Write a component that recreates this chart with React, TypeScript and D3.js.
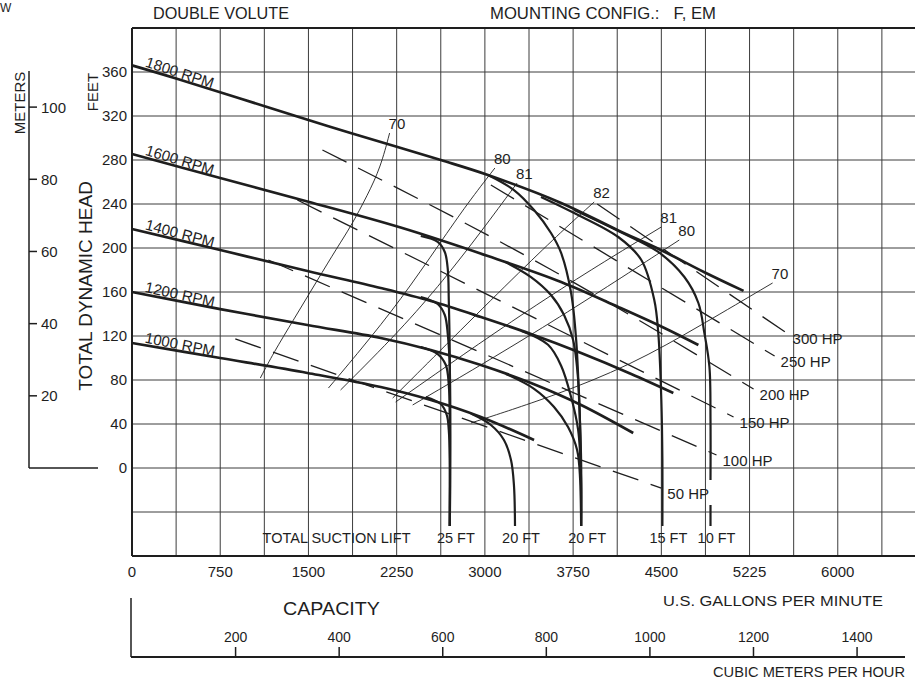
import React from "react";
import * as d3 from "d3";

type P = [number, number] | null;

// ---- axis ticks ----
const gpmTickValues = [0, 750, 1500, 2250, 3000, 3750, 4500, 5250, 6000];
const gpmTickLabels = ["0", "750", "1500", "2250", "3000", "3750", "4500", "5225", "6000"];
const feetTicks = [0, 40, 80, 120, 160, 200, 240, 280, 320, 360];
const meterTicks = [20, 40, 60, 80, 100];
const m3hTicks = [200, 400, 600, 800, 1000, 1200, 1400];

// ---- head-capacity curves (GPM, feet) ----
const rpmLabels = ["1800 RPM", "1600 RPM", "1400 RPM", "1200 RPM", "1000 RPM"];
const rpm1800: P[] = [[0, 366], [375, 354.1], [1432, 318.6], [1858, 304.5], [2625, 280], [3026, 266.4], [3648, 241], [4134, 216], [4500, 198], [4866, 178], [5199, 161]];
const rpm1600: P[] = [[0, 285.5], [750, 263.6], [1491, 242.3], [2284, 218.6], [3026, 192.7], [3648, 169.1], [4134, 146.4], [4526, 127.3], [4815, 111.8]];
const rpm1400: P[] = [[0, 217.3], [750, 198.2], [1491, 179.1], [2114, 163.6], [2540, 151.8], [2966, 137.3], [3392, 121.8], [3818, 104.5], [4244, 85.5], [4602, 68.2]];
const rpm1200: P[] = [[0, 160], [750, 144.5], [1491, 130], [2114, 118.2], [2540, 107.3], [2966, 93.6], [3392, 77.3], [3818, 57.3], [4261, 31.8]];
const rpm1000: P[] = [[0, 113.6], [750, 100], [1491, 86.4], [2114, 73.6], [2540, 61.8], [2966, 46.4], [3418, 25.5]];

// ---- suction lift limits ----
const liftGpm = [2702, 3256, 3818, 4509, 4918];
const liftLabels = ["25 FT", "20 FT", "20 FT", "15 FT", "10 FT"];

const b1000to25: P[] = [[2497, 64.5], [2625, 58.2], [2676, 48.2], [2693, 34.5], [2702, 7.3], [2702, -52.7]];
const b1000to20: P[] = [[2881, 49.5], [3051, 39.1], [3162, 25.5], [3222, 7.3], [3247, -15.5], [3256, -52.7]];
const b1200to25: P[] = [[2455, 110], [2599, 103.6], [2668, 93.6], [2693, 75.5], [2702, 43.6], [2702, -52.7]];
const b1200to20: P[] = [[3179, 85.5], [3418, 72], [3588, 55.5], [3707, 37.3], [3784, 16.4], [3810, -10.9], [3818, -52.7]];
const b1400to25: P[] = [[2455, 155.5], [2599, 149.1], [2659, 139.1], [2685, 120.9], [2702, 89.1], [2702, -52.7]];
const b1400to20: P[] = [[3307, 124.8], [3537, 112], [3648, 93], [3733, 64.5], [3793, 34.5], [3818, -10.9], [3818, -52.7]];
const b1600to25: P[] = [[2455, 210.9], [2599, 205.5], [2659, 196.4], [2685, 180], [2693, 152.7], [2702, 98.2], [2702, -52.7]];
const b1600to20: P[] = [[3179, 187], [3392, 173.6], [3562, 157.3], [3673, 139.1], [3750, 116.4], [3793, 80], [3810, 34.5], [3818, -52.7]];
const b1800to20: P[] = [[3026, 266.4], [3247, 252.7], [3418, 234.5], [3562, 213.6], [3648, 195.5], [3733, 159.1], [3776, 116.4], [3801, 61.8], [3818, 7.3], [3818, -52.7]];
const b1800to15: P[] = [[3477, 246.4], [3759, 231.8], [4134, 210], [4330, 189.1], [4440, 152.7], [4474, 122.7], [4500, 61.8], [4509, 7.3], [4509, -52.7]];
const b1800to10: P[] = [[3759, 234.5], [4134, 215.5], [4474, 196.4], [4696, 173.6], [4815, 150], [4866, 122.7], [4909, 91.8], [4918, 43.6], [4918, -10.9], null, [4918, -33.6], [4918, -52.7]];

// ---- efficiency curves (%) ----
const effLabels = ["70", "80", "81", "82", "81", "80", "70"];
const eff70a: P[] = [[1091, 81.8], [1202, 104.5], [1372, 134.5], [1577, 170.9], [1747, 200.9], [1858, 219.1], [2003, 248.2], [2114, 273.6], [2190, 304.5]];
const eff80a: P[] = [[1670, 72.7], [1943, 107.3], [2284, 152.7], [2625, 205.5], [2855, 241], [3085, 272.7]];
const eff81a: P[] = [[1773, 70.9], [2284, 125.5], [2651, 171], [2966, 214.5], [3273, 259]];
const eff82: P[] = [[2216, 63.6], [3477, 198.2], [3929, 241.8]];
const eff81b: P[] = [[2241, 60], [3477, 152.7], [4500, 219.1]];
const eff80b: P[] = [[2386, 57.3], [3477, 125.5], [4653, 207.3]];
const eff70b: P[] = [[2881, 40.9], [3562, 64.5], [4244, 93.6], [4841, 130], [5446, 168.2]];

// ---- power lines ----
const hpLabels = ["50 HP", "100 HP", "150 HP", "200 HP", "250 HP", "300 HP"];
const hp50: P[] = [[878, 117.3], [4500, -18.2]];
const hp100: P[] = [[1159, 189.1], [4969, 11.8]];
const hp150: P[] = [[1406, 243.6], [5114, 46.4]];
const hp200: P[] = [[1619, 289.1], [3537, 181.8], [5284, 71.8]];
const hp250: P[] = [[3051, 257.3], [5463, 101.8]];
const hp300: P[] = [[3955, 240], [5565, 122.7]];

const FT_PER_M = 3.28084;
const GPM_PER_M3H = 4.40287;

export default function App() {
  const W = 915, H = 681;
  const x = d3.scaleLinear().domain([0, 6750]).range([132, 926]);
  const y = d3.scaleLinear().domain([-80, 400]).range([556, 28]);
  const font = "'Liberation Sans', Arial, Helvetica, sans-serif";
  const ink = "#1e1e1e";

  const lineSmooth = d3.line<P>().defined((d) => d != null).x((d) => x(d![0])).y((d) => y(d![1])).curve(d3.curveMonotoneX);
  const lineCR = d3.line<P>().defined((d) => d != null).x((d) => x(d![0])).y((d) => y(d![1])).curve(d3.curveCatmullRom.alpha(0.5));
  const lineBasis = d3.line<P>().defined((d) => d != null).x((d) => x(d![0])).y((d) => y(d![1])).curve(d3.curveBasis);

  const rpmCurves = [rpm1800, rpm1600, rpm1400, rpm1200, rpm1000];
  const branches = [b1000to25, b1000to20, b1200to25, b1200to20, b1400to25, b1400to20, b1600to25, b1600to20, b1800to20, b1800to15, b1800to10];
  const effCurves = [eff70a, eff80a, eff81a, eff82, eff81b, eff80b, eff70b];
  const hpCurves = [hp50, hp100, hp150, hp200, hp250, hp300];

  const gridX = d3.range(0, 6751, 375);
  const gridY = d3.range(-40, 361, 40);
  const yM = (m: number) => y(m * FT_PER_M);
  const xM = (v: number) => x(v * GPM_PER_M3H);

  return (
    <svg width={W} height={H} style={{ position: "absolute", left: 0, top: 0, background: "#fff" }} fontFamily={font}>
      <rect x={0} y={0} width={W} height={H} fill="#fff" />
      {/* grid */}
      {gridX.map((g) => (
        <line key={"gx" + g} x1={x(g)} x2={x(g)} y1={y(400)} y2={y(-80)} stroke="#3c3c3c" strokeWidth={1} />
      ))}
      {gridY.map((g) => (
        <line key={"gy" + g} x1={x(0)} x2={x(6750)} y1={y(g)} y2={y(g)} stroke="#3c3c3c" strokeWidth={1} />
      ))}
      <line x1={x(0)} x2={x(6750)} y1={y(400)} y2={y(400)} stroke={ink} strokeWidth={2} />
      <line x1={x(0)} x2={x(6750)} y1={y(-80)} y2={y(-80)} stroke={ink} strokeWidth={2} />
      <line x1={x(0)} x2={x(0)} y1={y(400)} y2={y(-80)} stroke={ink} strokeWidth={2} />

      {/* titles */}
      <text x={0} y={12} fontSize={12} fill={ink}>W</text>
      <text x={153} y={19} fontSize={16} fill={ink} textLength={136} lengthAdjust="spacingAndGlyphs">DOUBLE VOLUTE</text>
      <text x={490} y={19} fontSize={16} fill={ink} textLength={226} lengthAdjust="spacingAndGlyphs" style={{ whiteSpace: "pre" }}>MOUNTING CONFIG.:   F, EM</text>

      {/* feet axis */}
      {feetTicks.map((t) => (
        <text key={"ft" + t} x={127} y={y(t)} dy="0.36em" textAnchor="end" fontSize={15} fill={ink}>{t}</text>
      ))}
      <text transform={`translate(98,92) rotate(-90)`} textAnchor="middle" fontSize={15} fill={ink}>FEET</text>
      <text transform={`translate(92,286) rotate(-90)`} textAnchor="middle" fontSize={19} fill={ink}>TOTAL DYNAMIC HEAD</text>

      {/* meters axis */}
      <line x1={29} x2={29} y1={yM(110)} y2={y(0)} stroke={ink} strokeWidth={1.5} />
      <line x1={29} x2={98} y1={y(0)} y2={y(0)} stroke={ink} strokeWidth={1.5} />
      {meterTicks.map((t) => (
        <g key={"m" + t}>
          <line x1={29} x2={37} y1={yM(t)} y2={yM(t)} stroke={ink} strokeWidth={1.5} />
          <text x={41} y={yM(t)} dy="0.36em" fontSize={15} fill={ink}>{t}</text>
        </g>
      ))}
      <text transform={`translate(25,103) rotate(-90)`} textAnchor="middle" fontSize={15} fill={ink}>METERS</text>

      {/* gpm axis labels */}
      {gpmTickValues.map((v, i) => (
        <text key={"gx" + v} x={x(v)} y={577} textAnchor="middle" fontSize={15} fill={ink}>{gpmTickLabels[i]}</text>
      ))}
      <text x={883} y={606} textAnchor="end" fontSize={15} fill={ink} textLength={220} lengthAdjust="spacingAndGlyphs">U.S. GALLONS PER MINUTE</text>
      <text x={283} y={615} fontSize={19} fill={ink} textLength={97} lengthAdjust="spacingAndGlyphs">CAPACITY</text>

      {/* m3/h axis */}
      <line x1={131} x2={131} y1={598} y2={657} stroke={ink} strokeWidth={1.5} />
      <line x1={131} x2={905} y1={657} y2={657} stroke={ink} strokeWidth={2} />
      {m3hTicks.map((t) => (
        <g key={"c" + t}>
          <line x1={xM(t)} x2={xM(t)} y1={647} y2={657} stroke={ink} strokeWidth={1.5} />
          <text x={xM(t)} y={642} textAnchor="middle" fontSize={14} fill={ink}>{t}</text>
        </g>
      ))}
      <text x={905} y={677} textAnchor="end" fontSize={15} fill={ink} textLength={192} lengthAdjust="spacingAndGlyphs">CUBIC METERS PER HOUR</text>

      {/* efficiency lines */}
      {effCurves.map((c, i) => {
        const last = c[c.length - 1]!;
        return (
          <g key={"e" + i}>
            <path d={lineBasis(c) || ""} fill="none" stroke={ink} strokeWidth={0.9} />
            <text x={x(last[0]) - 1} y={y(last[1]) - 4} fontSize={15} fill={ink}>{effLabels[i]}</text>
          </g>
        );
      })}

      {/* HP lines */}
      {hpCurves.map((c, i) => {
        const last = c[c.length - 1]!;
        return (
          <g key={"h" + i}>
            <path d={lineSmooth(c) || ""} fill="none" stroke={ink} strokeWidth={1.3} strokeDasharray="27,13" />
            <text x={x(last[0]) + 6} y={y(last[1]) + 11} fontSize={15} fill={ink}>{hpLabels[i]}</text>
          </g>
        );
      })}

      {/* suction lift branches */}
      {branches.map((c, i) => (
        <path key={"b" + i} d={lineCR(c) || ""} fill="none" stroke={ink} strokeWidth={2.2} />
      ))}

      {/* RPM curves */}
      {rpmCurves.map((c, i) => {
        const p0 = c[0]!, p1 = c[1]!;
        const g = 100;
        const fv = p0[1] + ((p1[1] - p0[1]) * (g - p0[0])) / (p1[0] - p0[0]);
        const ang = (Math.atan2(y(p1[1]) - y(p0[1]), x(p1[0]) - x(p0[0])) * 180) / Math.PI;
        return (
          <g key={"r" + i}>
            <path d={lineCR(c) || ""} fill="none" stroke={ink} strokeWidth={2.7} />
            <text transform={`translate(${x(g)},${y(fv)}) rotate(${ang + 1.5}) translate(0,-2.5)`} fontSize={15} fill={ink}>{rpmLabels[i]}</text>
          </g>
        );
      })}

      {/* suction lift labels */}
      <text x={x(1110)} y={543} fontSize={14.5} fill={ink}>TOTAL SUCTION LIFT</text>
      {liftGpm.map((g, i) => (
        <text key={"l" + i} x={x(g) + 6} y={543} textAnchor="middle" fontSize={14.5} fill={ink}>{liftLabels[i]}</text>
      ))}
    </svg>
  );
}
